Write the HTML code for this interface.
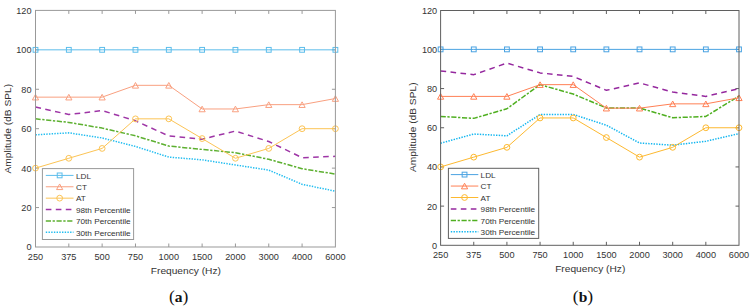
<!DOCTYPE html>
<html><head><meta charset="utf-8"><style>
html,body{margin:0;padding:0;background:#fff;}
body{width:752px;height:308px;overflow:hidden;}
svg{display:block;}
.ax{stroke-width:1;fill:none;}
.pa .ax{stroke:#999999;}
.pb .ax{stroke:#5f5f5f;}
.tk{font-family:"Liberation Sans",sans-serif;font-size:9.6px;fill:#333333;}
.lg{font-family:"Liberation Sans",sans-serif;font-size:8.2px;fill:#333333;}
.al{font-family:"Liberation Sans",sans-serif;font-size:10.2px;fill:#333333;}
.cap{font-family:"Liberation Serif",serif;font-size:17.5px;fill:#111;}
</style></head><body>
<svg width="752" height="308" viewBox="0 0 752 308">
<rect width="752" height="308" fill="#fff"/>
<g class="pa">
<text transform="translate(31.50,250.40) scale(0.955,1)" class="tk" text-anchor="end">0</text>
<line x1="35.50" y1="207.57" x2="39.00" y2="207.57" class="ax"/>
<line x1="335.40" y1="207.57" x2="331.90" y2="207.57" class="ax"/>
<text transform="translate(31.50,210.97) scale(0.955,1)" class="tk" text-anchor="end">20</text>
<line x1="35.50" y1="168.13" x2="39.00" y2="168.13" class="ax"/>
<line x1="335.40" y1="168.13" x2="331.90" y2="168.13" class="ax"/>
<text transform="translate(31.50,171.53) scale(0.955,1)" class="tk" text-anchor="end">40</text>
<line x1="35.50" y1="128.70" x2="39.00" y2="128.70" class="ax"/>
<line x1="335.40" y1="128.70" x2="331.90" y2="128.70" class="ax"/>
<text transform="translate(31.50,132.10) scale(0.955,1)" class="tk" text-anchor="end">60</text>
<line x1="35.50" y1="89.27" x2="39.00" y2="89.27" class="ax"/>
<line x1="335.40" y1="89.27" x2="331.90" y2="89.27" class="ax"/>
<text transform="translate(31.50,92.67) scale(0.955,1)" class="tk" text-anchor="end">80</text>
<line x1="35.50" y1="49.83" x2="39.00" y2="49.83" class="ax"/>
<line x1="335.40" y1="49.83" x2="331.90" y2="49.83" class="ax"/>
<text transform="translate(31.50,53.23) scale(0.955,1)" class="tk" text-anchor="end">100</text>
<text transform="translate(31.50,13.80) scale(0.955,1)" class="tk" text-anchor="end">120</text>
<text transform="translate(35.50,259.50) scale(0.955,1)" class="tk" text-anchor="middle">250</text>
<line x1="68.82" y1="247.00" x2="68.82" y2="243.50" class="ax"/>
<line x1="68.82" y1="10.40" x2="68.82" y2="13.90" class="ax"/>
<text transform="translate(68.82,259.50) scale(0.955,1)" class="tk" text-anchor="middle">375</text>
<line x1="102.14" y1="247.00" x2="102.14" y2="243.50" class="ax"/>
<line x1="102.14" y1="10.40" x2="102.14" y2="13.90" class="ax"/>
<text transform="translate(102.14,259.50) scale(0.955,1)" class="tk" text-anchor="middle">500</text>
<line x1="135.47" y1="247.00" x2="135.47" y2="243.50" class="ax"/>
<line x1="135.47" y1="10.40" x2="135.47" y2="13.90" class="ax"/>
<text transform="translate(135.47,259.50) scale(0.955,1)" class="tk" text-anchor="middle">750</text>
<line x1="168.79" y1="247.00" x2="168.79" y2="243.50" class="ax"/>
<line x1="168.79" y1="10.40" x2="168.79" y2="13.90" class="ax"/>
<text transform="translate(168.79,259.50) scale(0.955,1)" class="tk" text-anchor="middle">1000</text>
<line x1="202.11" y1="247.00" x2="202.11" y2="243.50" class="ax"/>
<line x1="202.11" y1="10.40" x2="202.11" y2="13.90" class="ax"/>
<text transform="translate(202.11,259.50) scale(0.955,1)" class="tk" text-anchor="middle">1500</text>
<line x1="235.43" y1="247.00" x2="235.43" y2="243.50" class="ax"/>
<line x1="235.43" y1="10.40" x2="235.43" y2="13.90" class="ax"/>
<text transform="translate(235.43,259.50) scale(0.955,1)" class="tk" text-anchor="middle">2000</text>
<line x1="268.76" y1="247.00" x2="268.76" y2="243.50" class="ax"/>
<line x1="268.76" y1="10.40" x2="268.76" y2="13.90" class="ax"/>
<text transform="translate(268.76,259.50) scale(0.955,1)" class="tk" text-anchor="middle">3000</text>
<line x1="302.08" y1="247.00" x2="302.08" y2="243.50" class="ax"/>
<line x1="302.08" y1="10.40" x2="302.08" y2="13.90" class="ax"/>
<text transform="translate(302.08,259.50) scale(0.955,1)" class="tk" text-anchor="middle">4000</text>
<text transform="translate(335.40,259.50) scale(0.955,1)" class="tk" text-anchor="middle">6000</text>
<polyline points="35.50,134.81 68.82,132.84 102.14,137.97 135.47,146.44 168.79,157.09 202.11,159.85 235.43,164.98 268.76,170.11 302.08,184.30 335.40,191.20" fill="none" stroke="#22BDF0" stroke-width="1.50" stroke-dasharray="1.4,1.3" stroke-linejoin="round"/>
<polyline points="35.50,118.84 68.82,122.39 102.14,128.11 135.47,135.80 168.79,146.05 202.11,149.40 235.43,152.75 268.76,159.26 302.08,168.72 335.40,174.05" fill="none" stroke="#5DB030" stroke-width="1.50" stroke-dasharray="5.2,1.6,2.3,1.6" stroke-linejoin="round"/>
<polyline points="35.50,107.01 68.82,114.50 102.14,110.56 135.47,120.81 168.79,136.00 202.11,139.15 235.43,131.07 268.76,141.52 302.08,157.68 335.40,156.30" fill="none" stroke="#9E35A6" stroke-width="1.50" stroke-dasharray="5.6,4.4" stroke-linejoin="round"/>
<polyline points="35.50,168.13 68.82,158.28 102.14,148.42 135.47,118.84 168.79,118.84 202.11,138.56 235.43,158.28 268.76,148.42 302.08,128.70 335.40,128.70" fill="none" stroke="#FCC455" stroke-width="1"/>
<circle cx="35.50" cy="168.13" r="2.9" fill="none" stroke="#FCC455" stroke-width="1"/>
<circle cx="68.82" cy="158.28" r="2.9" fill="none" stroke="#FCC455" stroke-width="1"/>
<circle cx="102.14" cy="148.42" r="2.9" fill="none" stroke="#FCC455" stroke-width="1"/>
<circle cx="135.47" cy="118.84" r="2.9" fill="none" stroke="#FCC455" stroke-width="1"/>
<circle cx="168.79" cy="118.84" r="2.9" fill="none" stroke="#FCC455" stroke-width="1"/>
<circle cx="202.11" cy="138.56" r="2.9" fill="none" stroke="#FCC455" stroke-width="1"/>
<circle cx="235.43" cy="158.28" r="2.9" fill="none" stroke="#FCC455" stroke-width="1"/>
<circle cx="268.76" cy="148.42" r="2.9" fill="none" stroke="#FCC455" stroke-width="1"/>
<circle cx="302.08" cy="128.70" r="2.9" fill="none" stroke="#FCC455" stroke-width="1"/>
<circle cx="335.40" cy="128.70" r="2.9" fill="none" stroke="#FCC455" stroke-width="1"/>
<polyline points="35.50,97.15 68.82,97.15 102.14,97.15 135.47,85.32 168.79,85.32 202.11,108.98 235.43,108.98 268.76,104.65 302.08,104.65 335.40,98.53" fill="none" stroke="#F9A080" stroke-width="1"/>
<path d="M35.50,94.35 L38.60,99.95 L32.40,99.95 Z" fill="none" stroke="#F9A080" stroke-width="1"/>
<path d="M68.82,94.35 L71.92,99.95 L65.72,99.95 Z" fill="none" stroke="#F9A080" stroke-width="1"/>
<path d="M102.14,94.35 L105.24,99.95 L99.04,99.95 Z" fill="none" stroke="#F9A080" stroke-width="1"/>
<path d="M135.47,82.52 L138.57,88.12 L132.37,88.12 Z" fill="none" stroke="#F9A080" stroke-width="1"/>
<path d="M168.79,82.52 L171.89,88.12 L165.69,88.12 Z" fill="none" stroke="#F9A080" stroke-width="1"/>
<path d="M202.11,106.18 L205.21,111.78 L199.01,111.78 Z" fill="none" stroke="#F9A080" stroke-width="1"/>
<path d="M235.43,106.18 L238.53,111.78 L232.33,111.78 Z" fill="none" stroke="#F9A080" stroke-width="1"/>
<path d="M268.76,101.85 L271.86,107.45 L265.66,107.45 Z" fill="none" stroke="#F9A080" stroke-width="1"/>
<path d="M302.08,101.85 L305.18,107.45 L298.98,107.45 Z" fill="none" stroke="#F9A080" stroke-width="1"/>
<path d="M335.40,95.73 L338.50,101.33 L332.30,101.33 Z" fill="none" stroke="#F9A080" stroke-width="1"/>
<polyline points="35.50,49.83 68.82,49.83 102.14,49.83 135.47,49.83 168.79,49.83 202.11,49.83 235.43,49.83 268.76,49.83 302.08,49.83 335.40,49.83" fill="none" stroke="#5CBDEB" stroke-width="1"/>
<rect x="33.10" y="47.43" width="4.80" height="4.80" fill="none" stroke="#5CBDEB" stroke-width="1"/>
<rect x="66.42" y="47.43" width="4.80" height="4.80" fill="none" stroke="#5CBDEB" stroke-width="1"/>
<rect x="99.74" y="47.43" width="4.80" height="4.80" fill="none" stroke="#5CBDEB" stroke-width="1"/>
<rect x="133.07" y="47.43" width="4.80" height="4.80" fill="none" stroke="#5CBDEB" stroke-width="1"/>
<rect x="166.39" y="47.43" width="4.80" height="4.80" fill="none" stroke="#5CBDEB" stroke-width="1"/>
<rect x="199.71" y="47.43" width="4.80" height="4.80" fill="none" stroke="#5CBDEB" stroke-width="1"/>
<rect x="233.03" y="47.43" width="4.80" height="4.80" fill="none" stroke="#5CBDEB" stroke-width="1"/>
<rect x="266.36" y="47.43" width="4.80" height="4.80" fill="none" stroke="#5CBDEB" stroke-width="1"/>
<rect x="299.68" y="47.43" width="4.80" height="4.80" fill="none" stroke="#5CBDEB" stroke-width="1"/>
<rect x="333.00" y="47.43" width="4.80" height="4.80" fill="none" stroke="#5CBDEB" stroke-width="1"/>
<rect x="35.50" y="10.40" width="299.90" height="236.60" fill="none" class="ax"/>
<rect x="42.40" y="168.60" width="91.20" height="70.90" fill="#fff" stroke="#999999" stroke-width="1"/>
<line x1="45.80" y1="175.40" x2="73.50" y2="175.40" stroke="#5CBDEB" stroke-width="1"/>
<rect x="57.25" y="173.00" width="4.80" height="4.80" fill="none" stroke="#5CBDEB" stroke-width="1"/>
<text transform="translate(76.00,178.70) scale(1,0.92)" class="lg">LDL</text>
<line x1="45.80" y1="186.78" x2="73.50" y2="186.78" stroke="#F9A080" stroke-width="1"/>
<path d="M59.65,183.98 L62.75,189.58 L56.55,189.58 Z" fill="none" stroke="#F9A080" stroke-width="1"/>
<text transform="translate(76.00,190.08) scale(1,0.92)" class="lg">CT</text>
<line x1="45.80" y1="198.16" x2="73.50" y2="198.16" stroke="#FCC455" stroke-width="1"/>
<circle cx="59.65" cy="198.16" r="2.9" fill="none" stroke="#FCC455" stroke-width="1"/>
<text transform="translate(76.00,201.46) scale(1,0.92)" class="lg">AT</text>
<line x1="45.80" y1="209.54" x2="73.50" y2="209.54" stroke="#9E35A6" stroke-width="1.50" stroke-dasharray="5.6,4.4"/>
<text transform="translate(76.00,212.84) scale(1,0.92)" class="lg">98th Percentile</text>
<line x1="45.80" y1="220.92" x2="73.50" y2="220.92" stroke="#5DB030" stroke-width="1.50" stroke-dasharray="5.2,1.6,2.3,1.6"/>
<text transform="translate(76.00,224.22) scale(1,0.92)" class="lg">70th Percentile</text>
<line x1="45.80" y1="232.30" x2="73.50" y2="232.30" stroke="#22BDF0" stroke-width="1.50" stroke-dasharray="1.4,1.3"/>
<text transform="translate(76.00,235.60) scale(1,0.92)" class="lg">30th Percentile</text>
<text transform="translate(185.85,273.50) scale(1,0.93)" class="al" text-anchor="middle">Frequency (Hz)</text>
<text transform="translate(10.60,128.70) rotate(-90) scale(1,0.92)" class="al" text-anchor="middle">Amplitude (dB SPL)</text>
</g><g class="pb">
<text transform="translate(437.20,248.70) scale(0.955,1)" class="tk" text-anchor="end">0</text>
<line x1="440.60" y1="206.12" x2="444.10" y2="206.12" class="ax"/>
<line x1="739.00" y1="206.12" x2="735.50" y2="206.12" class="ax"/>
<text transform="translate(437.20,209.52) scale(0.955,1)" class="tk" text-anchor="end">20</text>
<line x1="440.60" y1="166.93" x2="444.10" y2="166.93" class="ax"/>
<line x1="739.00" y1="166.93" x2="735.50" y2="166.93" class="ax"/>
<text transform="translate(437.20,170.33) scale(0.955,1)" class="tk" text-anchor="end">40</text>
<line x1="440.60" y1="127.75" x2="444.10" y2="127.75" class="ax"/>
<line x1="739.00" y1="127.75" x2="735.50" y2="127.75" class="ax"/>
<text transform="translate(437.20,131.15) scale(0.955,1)" class="tk" text-anchor="end">60</text>
<line x1="440.60" y1="88.57" x2="444.10" y2="88.57" class="ax"/>
<line x1="739.00" y1="88.57" x2="735.50" y2="88.57" class="ax"/>
<text transform="translate(437.20,91.97) scale(0.955,1)" class="tk" text-anchor="end">80</text>
<line x1="440.60" y1="49.38" x2="444.10" y2="49.38" class="ax"/>
<line x1="739.00" y1="49.38" x2="735.50" y2="49.38" class="ax"/>
<text transform="translate(437.20,52.78) scale(0.955,1)" class="tk" text-anchor="end">100</text>
<text transform="translate(437.20,13.60) scale(0.955,1)" class="tk" text-anchor="end">120</text>
<text transform="translate(440.60,258.30) scale(0.955,1)" class="tk" text-anchor="middle">250</text>
<line x1="473.76" y1="245.30" x2="473.76" y2="241.80" class="ax"/>
<line x1="473.76" y1="10.50" x2="473.76" y2="14.00" class="ax"/>
<text transform="translate(473.76,258.30) scale(0.955,1)" class="tk" text-anchor="middle">375</text>
<line x1="506.91" y1="245.30" x2="506.91" y2="241.80" class="ax"/>
<line x1="506.91" y1="10.50" x2="506.91" y2="14.00" class="ax"/>
<text transform="translate(506.91,258.30) scale(0.955,1)" class="tk" text-anchor="middle">500</text>
<line x1="540.07" y1="245.30" x2="540.07" y2="241.80" class="ax"/>
<line x1="540.07" y1="10.50" x2="540.07" y2="14.00" class="ax"/>
<text transform="translate(540.07,258.30) scale(0.955,1)" class="tk" text-anchor="middle">750</text>
<line x1="573.22" y1="245.30" x2="573.22" y2="241.80" class="ax"/>
<line x1="573.22" y1="10.50" x2="573.22" y2="14.00" class="ax"/>
<text transform="translate(573.22,258.30) scale(0.955,1)" class="tk" text-anchor="middle">1000</text>
<line x1="606.38" y1="245.30" x2="606.38" y2="241.80" class="ax"/>
<line x1="606.38" y1="10.50" x2="606.38" y2="14.00" class="ax"/>
<text transform="translate(606.38,258.30) scale(0.955,1)" class="tk" text-anchor="middle">1500</text>
<line x1="639.53" y1="245.30" x2="639.53" y2="241.80" class="ax"/>
<line x1="639.53" y1="10.50" x2="639.53" y2="14.00" class="ax"/>
<text transform="translate(639.53,258.30) scale(0.955,1)" class="tk" text-anchor="middle">2000</text>
<line x1="672.69" y1="245.30" x2="672.69" y2="241.80" class="ax"/>
<line x1="672.69" y1="10.50" x2="672.69" y2="14.00" class="ax"/>
<text transform="translate(672.69,258.30) scale(0.955,1)" class="tk" text-anchor="middle">3000</text>
<line x1="705.84" y1="245.30" x2="705.84" y2="241.80" class="ax"/>
<line x1="705.84" y1="10.50" x2="705.84" y2="14.00" class="ax"/>
<text transform="translate(705.84,258.30) scale(0.955,1)" class="tk" text-anchor="middle">4000</text>
<text transform="translate(739.00,258.30) scale(0.955,1)" class="tk" text-anchor="middle">6000</text>
<polyline points="440.60,143.23 473.76,134.02 506.91,135.78 540.07,114.43 573.22,114.43 606.38,125.20 639.53,143.03 672.69,145.19 705.84,141.27 739.00,133.63" fill="none" stroke="#12B6F0" stroke-width="1.50" stroke-dasharray="1.4,1.3" stroke-linejoin="round"/>
<polyline points="440.60,116.39 473.76,118.35 506.91,108.75 540.07,84.65 573.22,94.05 606.38,107.96 639.53,107.96 672.69,117.76 705.84,116.39 739.00,96.01" fill="none" stroke="#4FAF20" stroke-width="1.50" stroke-dasharray="5.2,1.6,2.3,1.6" stroke-linejoin="round"/>
<polyline points="440.60,70.93 473.76,74.66 506.91,63.10 540.07,72.89 573.22,76.42 606.38,90.33 639.53,82.89 672.69,92.09 705.84,96.40 739.00,88.76" fill="none" stroke="#95289E" stroke-width="1.50" stroke-dasharray="5.6,4.4" stroke-linejoin="round"/>
<polyline points="440.60,166.93 473.76,157.14 506.91,147.34 540.07,117.95 573.22,117.95 606.38,137.55 639.53,157.14 672.69,147.34 705.84,127.75 739.00,127.75" fill="none" stroke="#FDB930" stroke-width="1"/>
<circle cx="440.60" cy="166.93" r="2.9" fill="none" stroke="#FDB930" stroke-width="1"/>
<circle cx="473.76" cy="157.14" r="2.9" fill="none" stroke="#FDB930" stroke-width="1"/>
<circle cx="506.91" cy="147.34" r="2.9" fill="none" stroke="#FDB930" stroke-width="1"/>
<circle cx="540.07" cy="117.95" r="2.9" fill="none" stroke="#FDB930" stroke-width="1"/>
<circle cx="573.22" cy="117.95" r="2.9" fill="none" stroke="#FDB930" stroke-width="1"/>
<circle cx="606.38" cy="137.55" r="2.9" fill="none" stroke="#FDB930" stroke-width="1"/>
<circle cx="639.53" cy="157.14" r="2.9" fill="none" stroke="#FDB930" stroke-width="1"/>
<circle cx="672.69" cy="147.34" r="2.9" fill="none" stroke="#FDB930" stroke-width="1"/>
<circle cx="705.84" cy="127.75" r="2.9" fill="none" stroke="#FDB930" stroke-width="1"/>
<circle cx="739.00" cy="127.75" r="2.9" fill="none" stroke="#FDB930" stroke-width="1"/>
<polyline points="440.60,96.40 473.76,96.40 506.91,96.40 540.07,84.65 573.22,84.65 606.38,108.16 639.53,108.16 672.69,103.85 705.84,103.85 739.00,97.77" fill="none" stroke="#FF8055" stroke-width="1"/>
<path d="M440.60,93.60 L443.70,99.20 L437.50,99.20 Z" fill="none" stroke="#FF8055" stroke-width="1"/>
<path d="M473.76,93.60 L476.86,99.20 L470.66,99.20 Z" fill="none" stroke="#FF8055" stroke-width="1"/>
<path d="M506.91,93.60 L510.01,99.20 L503.81,99.20 Z" fill="none" stroke="#FF8055" stroke-width="1"/>
<path d="M540.07,81.85 L543.17,87.45 L536.97,87.45 Z" fill="none" stroke="#FF8055" stroke-width="1"/>
<path d="M573.22,81.85 L576.32,87.45 L570.12,87.45 Z" fill="none" stroke="#FF8055" stroke-width="1"/>
<path d="M606.38,105.36 L609.48,110.96 L603.28,110.96 Z" fill="none" stroke="#FF8055" stroke-width="1"/>
<path d="M639.53,105.36 L642.63,110.96 L636.43,110.96 Z" fill="none" stroke="#FF8055" stroke-width="1"/>
<path d="M672.69,101.05 L675.79,106.65 L669.59,106.65 Z" fill="none" stroke="#FF8055" stroke-width="1"/>
<path d="M705.84,101.05 L708.94,106.65 L702.74,106.65 Z" fill="none" stroke="#FF8055" stroke-width="1"/>
<path d="M739.00,94.97 L742.10,100.57 L735.90,100.57 Z" fill="none" stroke="#FF8055" stroke-width="1"/>
<polyline points="440.60,49.38 473.76,49.38 506.91,49.38 540.07,49.38 573.22,49.38 606.38,49.38 639.53,49.38 672.69,49.38 705.84,49.38 739.00,49.38" fill="none" stroke="#4AA3E2" stroke-width="1"/>
<rect x="438.20" y="46.98" width="4.80" height="4.80" fill="none" stroke="#4AA3E2" stroke-width="1"/>
<rect x="471.36" y="46.98" width="4.80" height="4.80" fill="none" stroke="#4AA3E2" stroke-width="1"/>
<rect x="504.51" y="46.98" width="4.80" height="4.80" fill="none" stroke="#4AA3E2" stroke-width="1"/>
<rect x="537.67" y="46.98" width="4.80" height="4.80" fill="none" stroke="#4AA3E2" stroke-width="1"/>
<rect x="570.82" y="46.98" width="4.80" height="4.80" fill="none" stroke="#4AA3E2" stroke-width="1"/>
<rect x="603.98" y="46.98" width="4.80" height="4.80" fill="none" stroke="#4AA3E2" stroke-width="1"/>
<rect x="637.13" y="46.98" width="4.80" height="4.80" fill="none" stroke="#4AA3E2" stroke-width="1"/>
<rect x="670.29" y="46.98" width="4.80" height="4.80" fill="none" stroke="#4AA3E2" stroke-width="1"/>
<rect x="703.44" y="46.98" width="4.80" height="4.80" fill="none" stroke="#4AA3E2" stroke-width="1"/>
<rect x="736.60" y="46.98" width="4.80" height="4.80" fill="none" stroke="#4AA3E2" stroke-width="1"/>
<rect x="440.60" y="10.50" width="298.40" height="234.80" fill="none" class="ax"/>
<rect x="448.40" y="168.30" width="90.30" height="70.10" fill="#fff" stroke="#5f5f5f" stroke-width="1"/>
<line x1="450.80" y1="174.60" x2="478.30" y2="174.60" stroke="#4AA3E2" stroke-width="1"/>
<rect x="462.15" y="172.20" width="4.80" height="4.80" fill="none" stroke="#4AA3E2" stroke-width="1"/>
<text transform="translate(480.60,177.90) scale(1,0.92)" class="lg">LDL</text>
<line x1="450.80" y1="186.05" x2="478.30" y2="186.05" stroke="#FF8055" stroke-width="1"/>
<path d="M464.55,183.25 L467.65,188.85 L461.45,188.85 Z" fill="none" stroke="#FF8055" stroke-width="1"/>
<text transform="translate(480.60,189.35) scale(1,0.92)" class="lg">CT</text>
<line x1="450.80" y1="197.50" x2="478.30" y2="197.50" stroke="#FDB930" stroke-width="1"/>
<circle cx="464.55" cy="197.50" r="2.9" fill="none" stroke="#FDB930" stroke-width="1"/>
<text transform="translate(480.60,200.80) scale(1,0.92)" class="lg">AT</text>
<line x1="450.80" y1="208.95" x2="478.30" y2="208.95" stroke="#95289E" stroke-width="1.50" stroke-dasharray="5.6,4.4"/>
<text transform="translate(480.60,212.25) scale(1,0.92)" class="lg">98th Percentile</text>
<line x1="450.80" y1="220.40" x2="478.30" y2="220.40" stroke="#4FAF20" stroke-width="1.50" stroke-dasharray="5.2,1.6,2.3,1.6"/>
<text transform="translate(480.60,223.70) scale(1,0.92)" class="lg">70th Percentile</text>
<line x1="450.80" y1="231.85" x2="478.30" y2="231.85" stroke="#12B6F0" stroke-width="1.50" stroke-dasharray="1.4,1.3"/>
<text transform="translate(480.60,235.15) scale(1,0.92)" class="lg">30th Percentile</text>
<text transform="translate(590.20,271.80) scale(1,0.93)" class="al" text-anchor="middle">Frequency (Hz)</text>
<text transform="translate(416.00,127.25) rotate(-90) scale(1,0.92)" class="al" text-anchor="middle">Amplitude (dB SPL)</text>
</g>
<text x="178.6" y="301.5" class="cap" text-anchor="middle">(<tspan font-weight="bold" font-size="15.5px">a</tspan>)</text>
<text x="583.0" y="301.5" class="cap" text-anchor="middle">(<tspan font-weight="bold" font-size="15.5px">b</tspan>)</text>
</svg>
</body></html>
